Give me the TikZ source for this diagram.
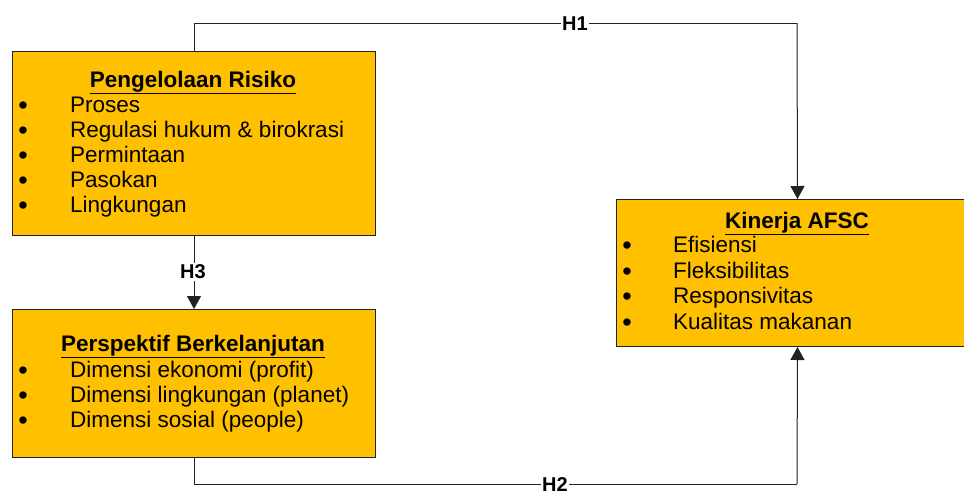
\documentclass[tikz,border=0pt]{standalone}
\usepackage{fontspec}
\setmainfont{Liberation Sans}
\usetikzlibrary{arrows.meta}
\definecolor{boxfill}{HTML}{FFC000}
\definecolor{edge}{HTML}{222222}
\tikzset{
  box/.style={draw=edge, line width=1pt, fill=boxfill, anchor=north west, inner sep=0pt},
  txt/.style={anchor=base west, inner sep=0pt, font=\fontsize{22.5}{26}\selectfont},
  ttl/.style={anchor=base, inner sep=0pt, font=\fontsize{22.5}{26}\selectfont\bfseries},
  bul/.style={anchor=base, inner sep=0pt, font=\fontsize{27}{30}\selectfont},
  lbl/.style={fill=white, inner sep=1.5pt, font=\fontsize{20}{23}\selectfont\bfseries},
  conn/.style={draw=edge, line width=1pt},
  arr/.style={conn, -{Triangle[length=13pt,width=14pt]}}
}
\begin{document}
\begin{tikzpicture}[x=1pt,y=-1pt]
\clip (0,0) rectangle (964,491);
\useasboundingbox (0,0) rectangle (964,491);
% boxes
\node[box, minimum width=363pt, minimum height=184pt] (b1) at (12,51) {};
\node[box, minimum width=363pt, minimum height=148pt] (b2) at (12,309) {};
\node[box, minimum width=362pt, minimum height=147pt] (b3) at (616,199) {};
% coordinates
\coordinate (t1) at (797,23);
\coordinate (t2) at (797,484);
% connectors
\draw[conn] (b1.north) |- (t1);
\draw[arr] (t1) -- (b3.north);
\draw[conn] (b2.south) |- (t2);
\draw[arr] (t2) -- (b3.south);
\draw[arr] (b1.south) -- (b2.north);
% labels
\node[lbl] (h1) at (575,24) {H1};
\node[lbl] (h2) at (555,485) {H2};
\node[lbl] (h3) at (193,272) {H3};
% box 1 text
\node[ttl] (t1a) at (193,87) {\underline{Pengelolaan Risiko}};
\node[bul] (p1b) at (23,114.5) {•}; \node[txt] (p1) at (70,112) {Proses};
\node[bul] (p2b) at (23,139.5) {•}; \node[txt] (p2) at (70,137) {Regulasi hukum \& birokrasi};
\node[bul] (p3b) at (23,164.5) {•}; \node[txt] (p3) at (70,162) {Permintaan};
\node[bul] (p4b) at (23,189.5) {•}; \node[txt] (p4) at (70,187) {Pasokan};
\node[bul] (p5b) at (23,214.5) {•}; \node[txt] (p5) at (70,212) {Lingkungan};
% box 2 text
\node[ttl] (t2a) at (193,351) {\underline{Perspektif Berkelanjutan}};
\node[bul] (q1b) at (23,379.5) {•}; \node[txt] (q1) at (70,377) {Dimensi ekonomi (profit)};
\node[bul] (q2b) at (23,404.5) {•}; \node[txt] (q2) at (70,402) {Dimensi lingkungan (planet)};
\node[bul] (q3b) at (23,429.5) {•}; \node[txt] (q3) at (70,427) {Dimensi sosial (people)};
% box 3 text
\node[ttl] (t3a) at (797,228) {\underline{Kinerja AFSC}};
\node[bul] (r1b) at (627,254.5) {•}; \node[txt] (r1) at (673,252) {Efisiensi};
\node[bul] (r2b) at (627,280.5) {•}; \node[txt] (r2) at (673,278) {Fleksibilitas};
\node[bul] (r3b) at (627,305.5) {•}; \node[txt] (r3) at (673,303) {Responsivitas};
\node[bul] (r4b) at (627,331.5) {•}; \node[txt] (r4) at (673,329) {Kualitas makanan};
\end{tikzpicture}
\end{document}
